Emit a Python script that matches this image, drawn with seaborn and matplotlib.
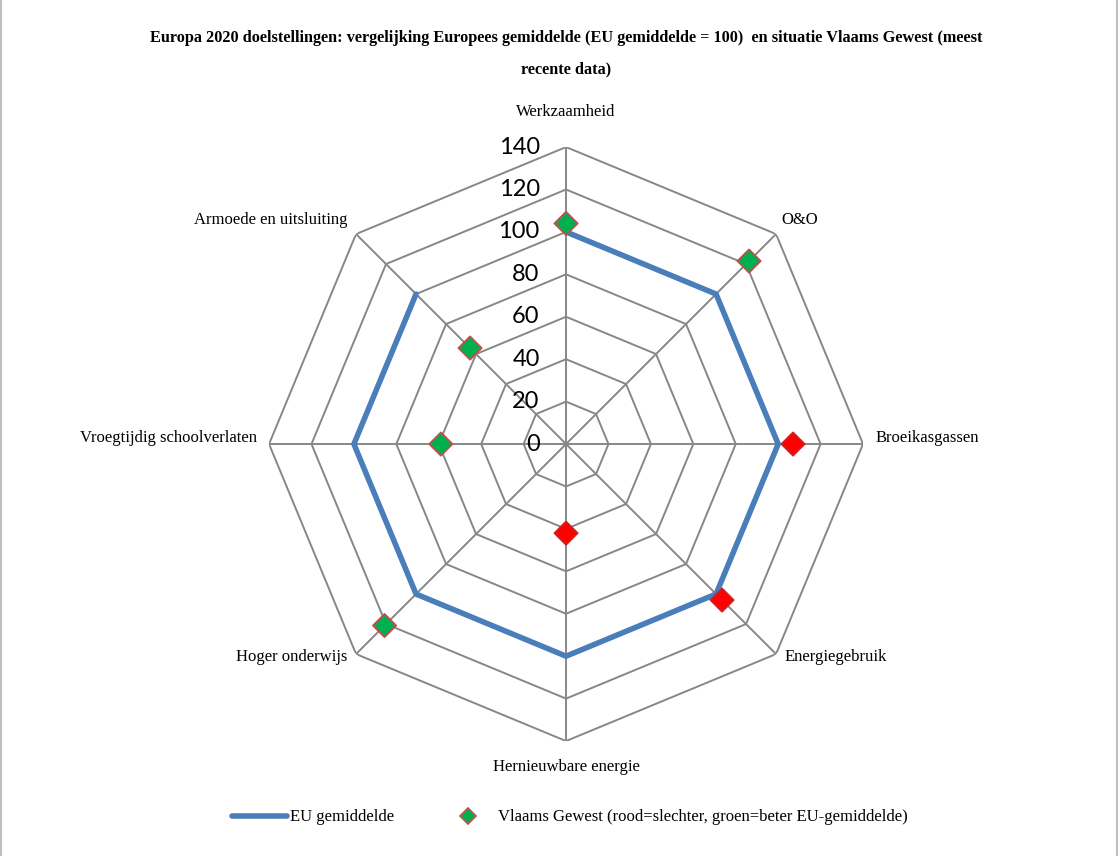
import numpy as np
import pandas as pd
import matplotlib
matplotlib.use('Agg')
import matplotlib.pyplot as plt
import seaborn as sns
from matplotlib.lines import Line2D

# data
categories = ["Werkzaamheid", "O&O", "Broeikasgassen", "Energiegebruik",
              "Hernieuwbare energie", "Hoger onderwijs",
              "Vroegtijdig schoolverlaten", "Armoede en uitsluiting"]
eu_values = [100, 100, 100, 100, 100, 100, 100, 100]
vl_values = [104, 122, 107, 104, 42, 121, 59, 64]
vl_status = ["beter", "beter", "slechter", "slechter",
             "slechter", "beter", "beter", "beter"]
r_ticks = [0, 20, 40, 60, 80, 100, 120, 140]

TITLE = ("Europa 2020 doelstellingen: vergelijking Europees gemiddelde (EU gemiddelde = 100)  "
         "en situatie Vlaams Gewest (meest\nrecente data)")
GRID_COLOR = "#878787"
EU_COLOR = "#4A7EBB"
SERIF = "Liberation Serif"

sns.set_style("white")
plt.rcParams['font.family'] = [SERIF, 'DejaVu Serif']
plt.rcParams['text.color'] = 'black'

n = len(categories)
angles = np.arange(n) * 2 * np.pi / n

df = pd.DataFrame({"angle": angles, "eu": eu_values, "vl": vl_values, "status": vl_status})
df_closed = pd.concat([df, df.iloc[[0]]], ignore_index=True)

fig = plt.figure(figsize=(11.2, 8.56), dpi=100)
ax = fig.add_axes([0.2402, 0.1343, 0.5304, 0.6939], projection='polar')
ax.set_theta_zero_location('N')
ax.set_theta_direction(-1)
ax.set_ylim(0, 140)
ax.grid(False)
ax.set_xticks([])
ax.set_yticks([])
ax.spines['polar'].set_visible(False)
ax.patch.set_alpha(0)

# octagonal grid + spokes
closed_angles = np.append(angles, angles[0])
for r in r_ticks[1:]:
    ax.plot(closed_angles, [r] * len(closed_angles), color=GRID_COLOR, lw=1.4, zorder=1)
for a in angles:
    ax.plot([a, a], [0, r_ticks[-1]], color=GRID_COLOR, lw=1.4, zorder=1)

# EU average polygon
sns.lineplot(data=df_closed, x="angle", y="eu", sort=False, color=EU_COLOR,
             lw=4, ax=ax, zorder=3)

# Vlaams Gewest markers
sns.scatterplot(data=df, x="angle", y="vl", hue="status",
                palette={"beter": "#00B050", "slechter": "#FF0000"},
                marker="D", s=140, linewidth=1.3, ax=ax, zorder=4, legend=False)
for coll in ax.collections:
    fc = coll.get_facecolors()
    coll.set_edgecolors(["#C0504D" if f[1] > 0.5 else "#D02020" for f in fc])
    coll.set_clip_on(False)
ax.set_xlabel("")
ax.set_ylabel("")

# radial tick labels
for r in r_ticks:
    ax.annotate(str(r), xy=(0, r), xytext=(-19, 0), textcoords='offset points',
                ha='right', va='center', fontsize=17, family=['Lato', 'DejaVu Sans'])

# category labels
label_offsets = [(0, 25, 'center'), (4, 10, 'left'), (9, 4, 'left'), (6, -2, 'left'),
                 (0, -19, 'center'), (-6, -2, 'right'), (-9, 4, 'right'), (-6, 10, 'right')]
for cat, a, (dx, dy, ha) in zip(categories, angles, label_offsets):
    ax.annotate(cat, xy=(a, r_ticks[-1]), xytext=(dx, dy), textcoords='offset points',
                ha=ha, va='center', fontsize=12, annotation_clip=False)

fig.text(0.5055, 0.937, TITLE, ha='center', va='center', fontsize=11.7,
         fontweight='bold', linespacing=2.3)

handles = [Line2D([], [], color=EU_COLOR, lw=4, solid_capstyle='round'),
           Line2D([], [], ls='none', marker='D', markersize=8, markerfacecolor="#00B050",
                  markeredgecolor="#C0504D", markeredgewidth=1.2)]
fig.legend(handles, ["EU gemiddelde", "Vlaams Gewest (rood=slechter, groen=beter EU-gemiddelde)"],
           loc='center', bbox_to_anchor=(0.509, 0.045), ncol=2, frameon=False,
           fontsize=12, handlelength=3.3, handletextpad=0.15, columnspacing=2.8)

# thin frame lines on the sides, like the reference
fig.add_artist(Line2D([0.001, 0.001], [0, 1], color="#BFBFBF", lw=1.5, transform=fig.transFigure))
fig.add_artist(Line2D([0.997, 0.997], [0, 1], color="#BFBFBF", lw=1.5, transform=fig.transFigure))

fig.savefig("out.png", dpi=100)
